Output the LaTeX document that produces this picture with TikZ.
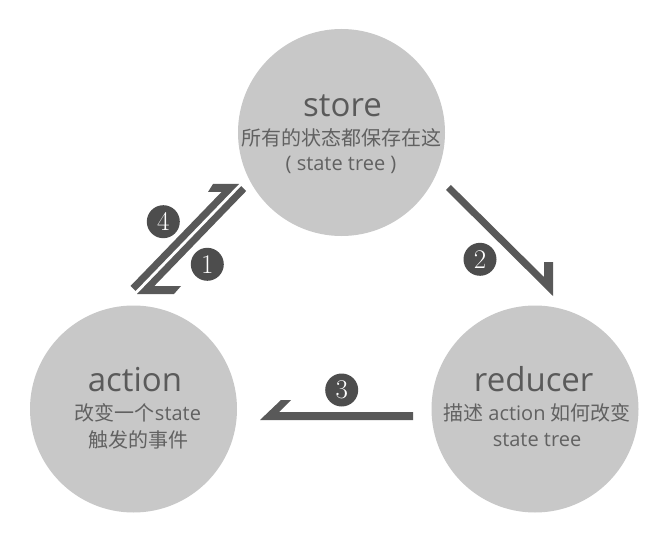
\documentclass[tikz,border=0pt]{standalone}
\usepackage{fontspec}
\setmainfont{Open Sans}
\newfontfamily\cjk{Noto Sans CJK SC}
\newfontfamily\lmr{Latin Modern Roman}
\definecolor{circfill}{HTML}{C8C8C8}
\definecolor{arrowcol}{HTML}{595959}
\definecolor{numcol}{HTML}{4D4D4D}
\definecolor{titlecol}{HTML}{5A5A5A}
\definecolor{subcol}{HTML}{616161}
\begin{document}
\begin{tikzpicture}[x=1pt,y=-1pt,
  bigcirc/.style={circle,fill=circfill,draw=none,minimum size=207pt,inner sep=0pt},
  titletext/.style={anchor=base,inner sep=0pt,text=titlecol,font=\fontsize{33}{33}\selectfont},
  subtext/.style={anchor=base,inner sep=0pt,text=subcol,font=\fontsize{20}{20}\selectfont},
  numbadge/.style={circle,fill=numcol,draw=none,minimum size=33pt,inner sep=0pt,text=white,font=\lmr\fontsize{27}{27}\selectfont},
  arrowshape/.style={fill=arrowcol,draw=none}]
\useasboundingbox (0,0) rectangle (669,548);
\fill[white] (0,0) rectangle (669,548);
% circles
\node[bigcirc] (store) at (341.5,132.5) {};
\node[bigcirc] (action) at (133.5,409) {};
\node[bigcirc] (reducer) at (535,409) {};
% store text
\node[titletext] (storeT) at (342.5,117) {store};
\node[subtext] (storeA) at (341,146) {\cjk 所有的状态都保存在这};
\node[subtext] (storeB) at (341,171) {( state tree )};
% action text
\node[titletext] (actionT) at (135,391.5) {action};
\node[subtext] (actionA) at (138,420.5) {{\cjk 改变一个}state};
\node[subtext] (actionB) at (138.3,447.5) {\cjk 触发的事件};
% reducer text
\node[titletext] (reducerT) at (533.7,391) {reducer};
\node[subtext] (reducerA) at (537,420.5) {{\cjk 描述} action {\cjk 如何改变}};
\node[subtext] (reducerB) at (537,446.7) {state tree};
% arrow 4 (up to store)
\fill[arrowshape] (135.5,291) -- (239,184) -- (213,184) -- (208,192) -- (221.5,192) -- (130.5,286) -- cycle;
% arrow 1 (down to action)
\fill[arrowshape] (241.2,186.1) -- (137,294) -- (174,294) -- (181,286) -- (154.3,286) -- (246.2,191) -- cycle;
% arrow 2 (store to reducer)
\fill[arrowshape] (446,190) -- (553,296) -- (553,262) -- (544,262) -- (544,277) -- (450.9,185) -- cycle;
% arrow 3 (reducer to action)
\fill[arrowshape] (260,420) -- (413,420) -- (413,412) -- (279,412) -- (291,400) -- (281,400) -- cycle;
% number badges
\node[numbadge] (n4) at (163.3,221.7) {4};
\node[numbadge] (n1) at (207.3,264.3) {1};
\node[numbadge] (n2) at (480,259.3) {2};
\node[numbadge] (n3) at (341.7,390) {3};
\end{tikzpicture}
\end{document}
